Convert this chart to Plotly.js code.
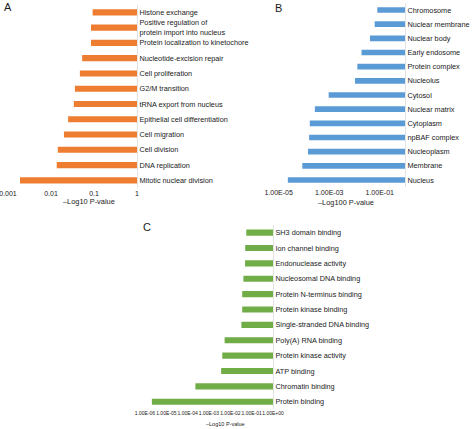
<!DOCTYPE html>
<html>
<head>
<meta charset="utf-8">
<script src="https://cdn.plot.ly/plotly-3.0.1.min.js"></script>
<style>html,body{margin:0;padding:0;background:#fff;}#chart{width:474px;height:429px;}</style>
</head>
<body>
<div id="chart"></div>
<script>
// Panel A: biological process (top to bottom)
const termsA = ['Histone exchange', 'Positive regulation of<br>protein import into nucleus', 'Protein localization to kinetochore',
  'Nucleotide-excision repair', 'Cell proliferation', 'G2/M transition', 'tRNA export from nucleus',
  'Epithelial cell differentiation', 'Cell migration', 'Cell division', 'DNA replication', 'Mitotic nuclear division'];
const pA = [0.093, 0.085, 0.085, 0.053, 0.047, 0.036, 0.034, 0.025, 0.020, 0.0144, 0.0136, 0.0019];
const ticksA = [0.001, 0.01, 0.1, 1];
const tickTextA = ['0.001', '0.01', '0.1', '1'];

// Panel B: cellular component
const termsB = ['Chromosome', 'Nuclear membrane', 'Nuclear body', 'Early endosome', 'Protein complex', 'Nucleolus',
  'Cytosol', 'Nuclear matrix', 'Cytoplasm', 'npBAF complex', 'Nucleoplasm', 'Membrane', 'Nucleus'];
const pB = [0.080, 0.063, 0.041, 0.019, 0.013, 0.0105, 0.00095, 0.00027, 0.00017, 0.00016, 0.000145, 0.000086, 0.000023];
const ticksB = [1e-5, 1e-3, 1e-1];
const tickTextB = ['1.00E-05', '1.00E-03', '1.00E-01'];

// Panel C: molecular function
const termsC = ['SH3 domain binding', 'Ion channel binding', 'Endonuclease activity', 'Nucleosomal DNA binding',
  'Protein N-terminus binding', 'Protein kinase binding', 'Single-stranded DNA binding', 'Poly(A) RNA binding',
  'Protein kinase activity', 'ATP binding', 'Chromatin binding', 'Protein binding'];
const pC = [0.056, 0.050, 0.049, 0.041, 0.036, 0.036, 0.033, 0.0054, 0.0042, 0.0037, 0.00023, 0.0000021];
const ticksC = [1e-6, 1e-5, 1e-4, 1e-3, 1e-2, 1e-1, 1];
const tickTextC = ['1.00E-06', '1.00E-05', '1.00E-04', '1.00E-03', '1.00E-02', '1.00E-01', '1.00E+00'];

const W = 474, H = 429;
const px = v => v / W;
const py = v => 1 - v / H;
const FONT = 'Liberation Sans, Arial, sans-serif';
const TXT = '#1a1a1a';

function barTrace(terms, p, color, xa, ya) {
  return {
    type: 'bar', orientation: 'h',
    y: terms, x: p.map(v => 1 - v), base: p,
    marker: {color: color, line: {width: 0}},
    width: 0.4, xaxis: xa, yaxis: ya, hoverinfo: 'skip'
  };
}

const data = [
  barTrace(termsA, pA, '#ED7D31', 'x', 'y'),
  barTrace(termsB, pB, '#5B9BD5', 'x2', 'y2'),
  barTrace(termsC, pC, '#70AD47', 'x3', 'y3')
];

function xax(dom, r, tv, tt, anchor, fs) {
  return {domain: dom, type: 'log', range: r, tickvals: tv, ticktext: tt, anchor: anchor,
    showgrid: false, zeroline: false, showline: false, ticks: '', fixedrange: true,
    tickangle: 0, ticklabeloverflow: 'allow',
    tickfont: {size: fs, color: TXT, family: FONT}};
}
function yax(dom, n, anchor) {
  return {domain: dom, type: 'category', range: [n - 0.5, -0.5], side: 'right', anchor: anchor,
    showgrid: false, zeroline: false, showline: true, linecolor: '#e3e3e3', linewidth: 1, ticks: '',
    fixedrange: true, ticklabeloverflow: 'allow', tickfont: {size: 7.3, color: TXT, family: FONT}};
}

const layout = {
  width: W, height: H,
  margin: {l: 0, r: 0, t: 0, b: 0},
  paper_bgcolor: '#fff', plot_bgcolor: 'rgba(0,0,0,0)',
  showlegend: false, barmode: 'overlay', hovermode: false,
  font: {family: FONT, color: TXT},
  xaxis: xax([px(8), px(137)], [-3, 0], ticksA, tickTextA, 'y', 7),
  yaxis: yax([py(188), py(4.7)], termsA.length, 'x'),
  xaxis2: xax([px(278.7), px(405)], [-5, 0], ticksB, tickTextB, 'y2', 7),
  yaxis2: yax([py(187.1), py(2.9)], termsB.length, 'x2'),
  xaxis3: xax([px(145), px(273)], [-6, 0], ticksC, tickTextC, 'y3', 5),
  yaxis3: yax([py(409.4), py(225)], termsC.length, 'x3'),
  annotations: [
    {text: 'A', x: px(8), y: py(7), xref: 'paper', yref: 'paper', showarrow: false, xanchor: 'center', yanchor: 'middle', font: {size: 11, color: TXT}},
    {text: 'B', x: px(278.7), y: py(8.3), xref: 'paper', yref: 'paper', showarrow: false, xanchor: 'center', yanchor: 'middle', font: {size: 11, color: TXT}},
    {text: 'C', x: px(146.7), y: py(226.7), xref: 'paper', yref: 'paper', showarrow: false, xanchor: 'center', yanchor: 'middle', font: {size: 11, color: TXT}},
    {text: '\u2013Log10 P-value', x: px(89), y: py(201.7), xref: 'paper', yref: 'paper', showarrow: false, xanchor: 'center', yanchor: 'middle', font: {size: 7.4, color: TXT}},
    {text: '\u2013Log100 P-value', x: px(345.5), y: py(202), xref: 'paper', yref: 'paper', showarrow: false, xanchor: 'center', yanchor: 'middle', font: {size: 7.4, color: TXT}},
    {text: '\u2013Log10 P-value', x: px(225), y: py(424), xref: 'paper', yref: 'paper', showarrow: false, xanchor: 'center', yanchor: 'middle', font: {size: 5.5, color: TXT}}
  ]
};

Plotly.newPlot('chart', data, layout, {displayModeBar: false, staticPlot: true});
</script>
</body>
</html>
